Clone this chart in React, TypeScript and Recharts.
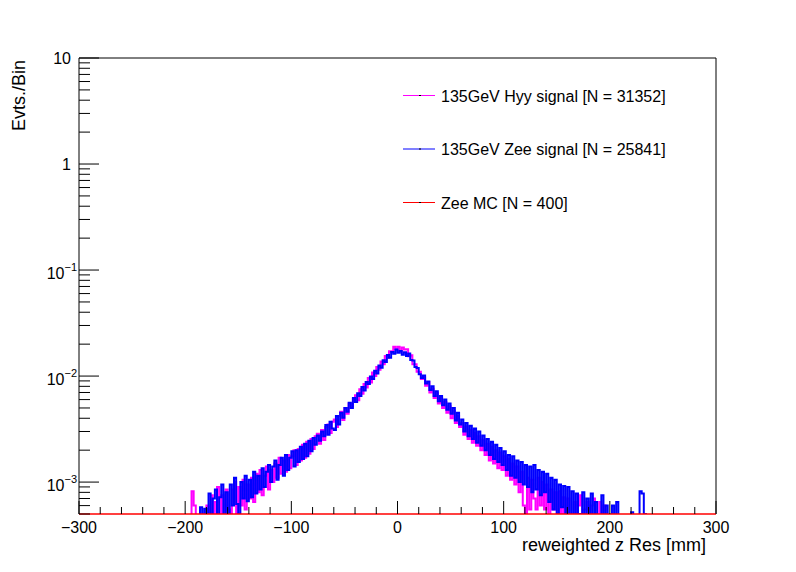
import React from "react";
import { ComposedChart, Line, ReferenceLine, XAxis, YAxis } from "recharts";

const FONT = '"Liberation Sans", Arial, Helvetica, sans-serif';

// 2 mm bins, first bin centred at -199 mm; contents in units of 1e-3 Evts./Bin
const BIN_FIRST = -199;
const BIN_WIDTH = 2;
const SCALE = 1e-3;

const hyySignal = [
  0, 0, 0, 0.82, 0.6, 0, 0.3, 0, 0.4, 0.2,
  0.6, 0.25, 0.75, 0.45, 0.65, 0.9, 0.35, 0.75, 0.45, 0.85,
  0.55, 0.4, 0.85, 1.0, 0.5, 0.9, 0.6, 1.05, 0.55, 0.95,
  0.7, 1.1, 0.65, 1.2, 0.8, 1.3, 0.75, 1.15, 1.4, 0.85,
  1.3, 1.0, 1.5, 1.1, 1.7, 1.2, 1.6, 1.25, 1.8, 1.35,
  1.75, 2.0, 1.45, 2.05, 1.6, 2.25, 1.7, 2.4, 1.85, 2.55,
  2.05, 2.7, 2.85, 2.3, 3.1, 2.5, 3.3, 3.5, 2.9, 3.7,
  3.9, 3.3, 4.2, 4.6, 3.85, 5.0, 4.4, 5.5, 5.2, 6.1,
  6.6, 5.9, 7.5, 6.8, 8.4, 7.8, 9.6, 8.7, 10.8, 10.0,
  12.2, 11.5, 13.7, 12.9, 15.5, 14.9, 17.1, 17.0, 18.9, 18.0,
  18.9, 17.1, 18.6, 17.8, 17.9, 15.4, 15.7, 12.9, 12.9, 11.0,
  11.0, 9.4, 9.7, 8.1, 8.8, 7.0, 7.6, 6.2, 6.9, 5.5,
  6.2, 5.0, 5.7, 4.5, 5.2, 4.0, 4.7, 3.6, 4.2, 3.3,
  3.6, 2.8, 3.35, 2.55, 3.1, 2.35, 2.9, 2.2, 2.7, 2.0,
  2.5, 1.8, 2.3, 1.6, 2.15, 1.5, 2.0, 1.35, 1.9, 1.3,
  1.75, 1.15, 1.65, 1.05, 1.5, 0.95, 1.4, 0.8, 1.25, 0.6,
  0.5, 1.1, 0.55, 1.05, 0.7, 0.55, 1.1, 0.6, 1.0, 0.55,
  0.95, 0.4, 0.85, 0.55, 0.8, 0.35, 0.82, 0.5, 0.72, 0.3,
  0.7, 0.4, 0.3, 0.65, 0.25, 0.6, 0.75, 0.2, 0.55, 0.65,
  0.3, 0.6, 0.7, 0.2, 0.4, 0.65, 0.1, 0.6, 0.3, 0,
  0.2, 0, 0, 0, 0, 0, 0, 0, 0, 0,
  0, 0, 0, 0, 0, 0, 0, 0,
];

const zeeSignal = [
  0, 0, 0, 0.2, 0.3, 0.25, 0.45, 0.58, 0.3, 0.56,
  0.3, 0.78, 0.42, 0.7, 0.85, 0.35, 0.72, 0.95, 0.45, 0.8,
  0.45, 0.95, 0.6, 1.1, 0.62, 0.5, 1.0, 0.7, 1.15, 0.66,
  1.05, 0.72, 1.25, 0.78, 1.15, 0.85, 1.35, 0.9, 1.25, 1.45,
  1.0, 1.4, 1.6, 1.05, 1.45, 1.7, 1.15, 1.8, 1.3, 1.7,
  1.95, 1.4, 2.0, 1.55, 2.15, 1.65, 2.3, 1.75, 2.45, 1.95,
  2.6, 2.25, 2.75, 2.45, 3.0, 2.7, 3.45, 2.8, 3.7, 3.2,
  3.1, 4.2, 3.5, 4.5, 4.05, 5.0, 4.6, 5.6, 5.0, 6.2,
  5.7, 6.9, 6.5, 7.9, 7.3, 8.8, 8.4, 9.9, 9.4, 11.2,
  10.6, 12.6, 12.0, 14.1, 13.6, 15.8, 14.9, 16.9, 16.2, 17.8,
  16.6, 17.2, 15.9, 16.8, 15.5, 16.3, 14.2, 14.0, 12.2, 11.9,
  10.4, 9.6, 10.1, 8.5, 8.9, 7.4, 8.0, 6.5, 7.2, 5.8,
  6.5, 5.3, 6.0, 4.8, 5.5, 4.4, 5.0, 3.8, 4.5, 3.5,
  3.9, 3.0, 3.6, 2.7, 3.4, 2.55, 3.2, 2.35, 3.0, 2.2,
  2.75, 2.0, 2.55, 1.8, 2.4, 1.65, 2.25, 1.55, 2.1, 1.45,
  1.95, 1.3, 1.8, 1.15, 1.75, 1.1, 1.6, 1.0, 1.55, 0.95,
  1.45, 0.9, 1.4, 0.8, 1.45, 0.85, 1.3, 0.75, 1.25, 0.8,
  1.2, 0.65, 1.1, 0.55, 1.05, 0.5, 0.95, 0.58, 0.92, 0.45,
  0.9, 0.42, 0.82, 0.38, 0.78, 0.5, 0.35, 0.8, 0.25, 0.7,
  0.3, 0.78, 0.2, 0.65, 0.3, 0.25, 0.75, 0.1, 0.6, 0.2,
  0.3, 0.6, 0, 0.65, 0, 0, 0, 0, 0.15, 0,
  0.52, 0, 0, 0, 0.82, 0.78, 0.5, 0,
];

const LEGEND = [
  { name: "135GeV Hyy signal [N = 31352]", color: "#ff00ff" },
  { name: "135GeV Zee signal [N = 25841]", color: "#0000ff" },
  { name: "Zee MC [N = 400]", color: "#ff0000" },
];

const X_DOMAIN = [-300, 300];
const X_TICKS = [
  -300, -280, -260, -240, -220, -200, -180, -160, -140, -120, -100, -80, -60,
  -40, -20, 0, 20, 40, 60, 80, 100, 120, 140, 160, 180, 200, 220, 240, 260,
  280, 300,
];

const Y_MIN = 5e-4;
const Y_MAX = 10;
const Y_DECADES = [1e-4, 1e-3, 1e-2, 1e-1, 1];
const Y_MANTISSAS = [1, 2, 3, 4, 5, 6, 7, 8, 9];
const Y_LABELS: Record<string, [string, string?]> = {
  "0.001": ["10", "\u22123"],
  "0.01": ["10", "\u22122"],
  "0.1": ["10", "\u22121"],
  "1": ["1"],
  "10": ["10"],
};

const Y_TICKS = [
  ...Y_DECADES.flatMap((d) => Y_MANTISSAS.map((m) => +(m * d).toPrecision(3))),
  Y_MAX,
].filter((v) => v >= Y_MIN && v <= Y_MAX);

const FLOOR = 1e-5; // empty bins fall below the visible range

const data = hyySignal.map((h, i) => ({
  x: BIN_FIRST + i * BIN_WIDTH,
  hyy: Math.max(h * SCALE, FLOOR),
  zee: Math.max(zeeSignal[i] * SCALE, FLOOR),
}));

const fmtX = (v: number) => (v < 0 ? `\u2212${-v}` : `${v}`);

function XTick({ x, y, payload }: any) {
  const v = payload.value as number;
  const major = v % 100 === 0;
  return (
    <g>
      <line x1={x} x2={x} y1={y} y2={y - (major ? 13 : 7)} stroke="#000" />
      {major ? (
        <text x={x} y={y + 19} textAnchor="middle" fontSize={16} fontFamily={FONT} fill="#000">
          {fmtX(v)}
        </text>
      ) : null}
    </g>
  );
}

function YTick({ x, y, payload }: any) {
  const v = payload.value as number;
  const label = Y_LABELS[String(v)];
  const major = !!label;
  return (
    <g>
      <line x1={x} x2={x + (major ? 20 : 11)} y1={y} y2={y} stroke="#000" />
      {label ? (
        label[1] ? (
          <text x={x - 2} y={y + 9} textAnchor="end" fontSize={16} fontFamily={FONT} fill="#000">
            {label[0]}
            <tspan fontSize={11} dy={-8}>
              {label[1]}
            </tspan>
          </text>
        ) : (
          <text x={x - 8} y={y + 6} textAnchor="end" fontSize={16} fontFamily={FONT} fill="#000">
            {label[0]}
          </text>
        )
      ) : null}
    </g>
  );
}

export default function App() {
  return (
    <div style={{ position: "absolute", left: 0, top: 0, width: 796, height: 572, background: "#fff" }}>
      <ComposedChart
        width={796}
        height={572}
        data={data}
        margin={{ top: 58, right: 80, bottom: 0, left: 0 }}
      >
        <XAxis
          dataKey="x"
          type="number"
          domain={X_DOMAIN}
          ticks={X_TICKS}
          interval={0}
          allowDataOverflow
          height={58}
          tickSize={0}
          tickMargin={0}
          tickLine={false}
          axisLine={false}
          tick={<XTick />}
        />
        <YAxis
          type="number"
          scale="log"
          domain={[Y_MIN, Y_MAX]}
          ticks={Y_TICKS}
          interval={0}
          allowDataOverflow
          width={79}
          tickSize={0}
          tickMargin={0}
          tickLine={false}
          axisLine={{ stroke: "#000" }}
          tick={<YTick />}
        />
        <ReferenceLine y={Y_MAX} stroke="#000" strokeWidth={1} />
        <ReferenceLine x={X_DOMAIN[1]} stroke="#000" strokeWidth={1} />
        <Line
          dataKey="hyy"
          type="step"
          stroke="#ff00ff"
          strokeWidth={2}
          dot={false}
          isAnimationActive={false}
        />
        <Line
          dataKey="zee"
          type="step"
          stroke="#0000ff"
          strokeWidth={2}
          dot={false}
          isAnimationActive={false}
        />
        <ReferenceLine y={Y_MIN} stroke="#ff0000" strokeWidth={1.5} />
      </ComposedChart>

      <svg
        width={796}
        height={572}
        style={{ position: "absolute", left: 0, top: 0, pointerEvents: "none" }}
        fontFamily={FONT}
      >
        {LEGEND.map((item, i) => {
          const y = 95.5 + i * 53.5;
          return (
            <g key={item.name}>
              <line x1={403} x2={435} y1={y} y2={y} stroke={item.color} strokeWidth={1} />
              <line x1={419} x2={421} y1={y} y2={y} stroke="#000" strokeWidth={1} />
              <text x={441} y={y + 6} fontSize={16} fill="#000">
                {item.name}
              </text>
            </g>
          );
        })}
        <text x={706} y={551} textAnchor="end" fontSize={18} fill="#000">
          reweighted z Res [mm]
        </text>
        <text x={25} y={60} textAnchor="end" fontSize={18} fill="#000" transform="rotate(-90 25 60)">
          Evts./Bin
        </text>
      </svg>
    </div>
  );
}
